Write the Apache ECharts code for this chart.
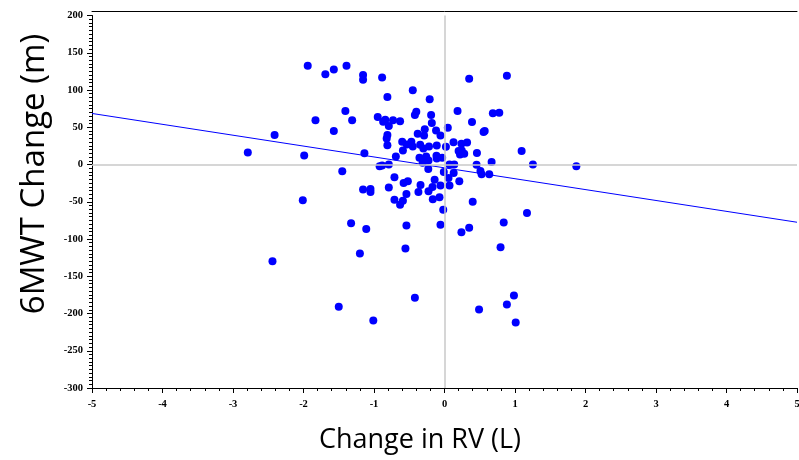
<!DOCTYPE html>
<html>
<head>
<meta charset="utf-8">
<script src="https://cdn.jsdelivr.net/npm/echarts@6/dist/echarts.min.js"></script>
<style>html,body{margin:0;padding:0;background:#fff;}#chart{width:799px;height:460px;}</style>
</head>
<body>
<div id="chart"></div>
<script>
// Change in RV (L)
const rvChange = [
 -1.94,-1.69,-1.57,-1.39,-1.155,-1.155,-0.885,-0.81,-1.406,-1.83,
 -1.31,-1.57,-2.41,-2.79,-1.99,-1.136,-0.947,-0.87,-0.84,-0.73,
 -0.63,-0.79,-0.81,-0.82,-0.81,-0.69,-1.45,-0.92,-0.885,-0.79,
 -0.71,-0.45,-0.21,0.35,0.885,-0.40,-0.42,-0.19,0.185,0.686,
 0.777,-0.18,0.39,0.554,0.57,0.047,-0.28,-0.29,-0.38,-0.12,
 -0.057,-0.60,-0.47,-0.535,-0.45,-0.345,-0.30,-0.22,-0.11,0.02,
 0.128,0.24,0.32,0.20,0.245,0.28,0.22,0.46,1.094,-0.59,
 -0.355,-0.26,-0.227,-0.31,-0.114,-0.11,-0.033,0.071,0.138,0.13,
 0.057,-0.01,-0.23,0.455,0.668,0.51,0.526,0.635,1.254,1.87,
 -0.52,-0.58,-0.14,0.21,-0.34,-0.79,-1.155,-1.05,-1.05,-0.17,
 -0.057,0.071,-0.227,-0.37,-0.54,-0.071,-0.166,-0.71,-0.59,-0.63,
 0.40,-0.018,1.17,-1.325,0.84,-0.057,-0.54,-1.11,0.35,0.24,
 -0.554,0.795,-1.20,-2.01,-2.44,-1.50,-1.01,-0.42,0.49,0.985,
 0.885,1.01
];
// 6MWT Change (m)
const walkChange = [
 132.5,121,127.5,132.5,120,113.6,116.7,90.7,71.8,59.3,
 59.3,44.9,39.5,16.2,12.1,15.2,63.7,57.4,60,59.3,
 58,51.6,39.5,35,26,10.8,-9,-2.3,-1.4,0,
 -17,99.7,87.6,115,119,70.9,66.4,66.4,71.8,68.7,
 69.5,55.7,57,43.5,45,49.3,47.2,39,41.3,45.8,
 39,30.5,30.5,27,24.3,26.4,21.6,24.3,25.6,23.7,
 30,27.8,29.6,18,18.9,14.3,13.5,15.6,18,18.9,
 8.9,10.8,5.4,2.2,11.6,8.1,8.9,0,0,-11.3,
 -18,-10,-5.9,-0.5,3.5,-8.6,-13,-13,0,-2.3,
 -22.5,-24.8,-20.5,-22.5,-27.5,-31,-33.7,-32.9,-36.9,-30.2,
 -28.3,-28.3,-36,-36.9,-39.6,-44,-46.8,-47.2,-48.5,-54,
 -50,-60.6,-65,-79,-78,-81,-82,-86.7,-85,-90.8,
 -112.8,-111,-119.5,-48,-130,-191,-209.4,-178.8,-194.6,-176,
 -188,-212
];
// Fitted regression line end points
const fitX = [-5, 5];
const fitY = [68.5, -77.5];
// Axis ticks
const xTicks = [-5,-4,-3,-2,-1,0,1,2,3,4,5];
const yTicks = [-300,-250,-200,-150,-100,-50,0,50,100,150,200];
const xTitle = 'Change in RV (L)';
const yTitle = '6MWT Change (m)';

const chart = echarts.init(document.getElementById('chart'), null, {renderer:'canvas'});
const labelFont = {fontFamily:'Liberation Serif', fontWeight:'bold', fontSize:10.5, color:'#000'};
chart.setOption({
  animation:false,
  backgroundColor:'#fff',
  grid:{left:92, right:2, top:15.5, bottom:72, show:false,
        containLabel:false, outerBoundsMode:'none'},
  graphic:[
    {type:'text', x:420, y:440, silent:true,
     style:{text:xTitle, font:'27px "Open Sans"', fill:'#000', textAlign:'center', textVerticalAlign:'middle'}},
    {type:'text', x:35, y:174, rotation:Math.PI/2, silent:true,
     style:{text:yTitle, font:'33px "Open Sans"', fill:'#000', textAlign:'center', textVerticalAlign:'middle'}}
  ],
  xAxis:[{
    type:'value', min:xTicks[0], max:xTicks[xTicks.length-1], interval:1,
    axisLine:{show:true, onZero:false, lineStyle:{color:'#000', width:1}},
    axisTick:{show:true, length:5, lineStyle:{color:'#000'}},
    minorTick:{show:true, splitNumber:5, length:3, lineStyle:{color:'#000'}},
    splitLine:{show:false},
    axisLabel:Object.assign({margin:11}, labelFont)
  },{
    type:'value', position:'top', offset:4, min:xTicks[0], max:xTicks[xTicks.length-1], interval:1,
    axisLine:{show:true, onZero:false, lineStyle:{color:'#000', width:1}},
    axisTick:{show:false}, axisLabel:{show:false}, splitLine:{show:false}
  }],
  yAxis:{
    type:'value', min:yTicks[0], max:yTicks[yTicks.length-1], interval:50,
    axisLine:{show:true, onZero:false, lineStyle:{color:'#000', width:1}},
    axisTick:{show:true, length:5, lineStyle:{color:'#000'}},
    minorTick:{show:true, splitNumber:10, length:3, lineStyle:{color:'#000'}},
    splitLine:{show:false},
    axisLabel:Object.assign({margin:9}, labelFont)
  },
  series:[
    {
      type:'line', data:[], silent:true,
      markLine:{silent:true, symbol:'none', label:{show:false},
        lineStyle:{color:'#c8c8c8', width:1.5, type:'solid'},
        data:[{xAxis:0},{yAxis:0}]}
    },
    {
      type:'line', data:fitX.map((x,i)=>[x,fitY[i]]), symbol:'none', silent:true,
      lineStyle:{color:'#0000ff', width:1}
    },
    {
      type:'scatter', data:rvChange.map((x,i)=>[x,walkChange[i]]),
      symbol:'circle', symbolSize:8, itemStyle:{color:'#0000ff', opacity:1}
    }
  ]
});
</script>
</body>
</html>
